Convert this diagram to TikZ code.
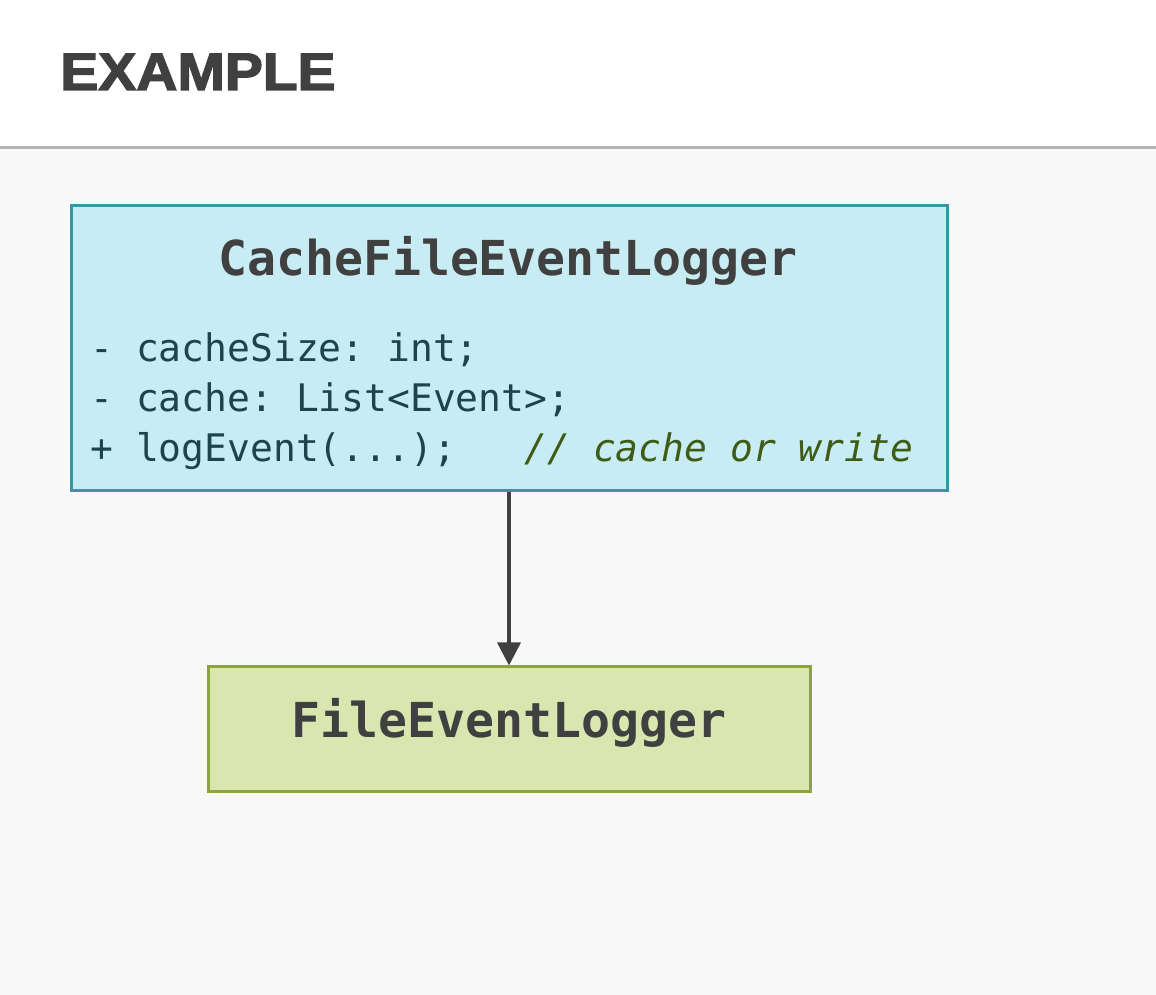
\documentclass[tikz,border=0pt]{standalone}
\usepackage{fontspec}
\setmainfont{Liberation Sans}
\setmonofont{DejaVu Sans Mono}
\newfontfamily\headfont[BoldFeatures={FakeBold=2.5}]{Liberation Sans}
\usetikzlibrary{arrows.meta}

\definecolor{headgrey}{RGB}{64,64,64}
\definecolor{rulegrey}{RGB}{178,178,178}
\definecolor{pagebg}{RGB}{249,249,249}
\definecolor{cachefill}{RGB}{200,236,243}
\definecolor{cacheline}{RGB}{58,150,165}
\definecolor{filefill}{RGB}{217,230,176}
\definecolor{fileline}{RGB}{138,166,58}
\definecolor{membertext}{RGB}{28,68,76}
\definecolor{commenttext}{RGB}{62,92,22}

\tikzset{
    classbox/.style={draw, line width=0.06cm, inner sep=0pt},
    classname/.style={inner sep=0pt, anchor=base, text=headgrey,
        font=\ttfamily\bfseries\fontsize{27.4}{32}\selectfont},
    member/.style={inner sep=0pt, anchor=base west, text=membertext,
        font=\ttfamily\fontsize{21.6}{28}\selectfont},
}

\begin{document}
\begin{tikzpicture}
    \useasboundingbox (0,0) rectangle (23.12,19.9);

    % 页眉
    \fill[white] (0,16.94) rectangle (23.12,19.9);
    \fill[pagebg] (0,0) rectangle (23.12,16.94);
    \draw[line width=0.06cm, rulegrey] (0,16.94) -- (23.12,16.94);
    \node[anchor=base west, inner sep=0pt, text=headgrey,
        font=\headfont\bfseries\fontsize{30}{36}\selectfont] (heading) at (1.20,18.10)
        {\scalebox{1.08}[1]{EXAMPLE}};

    % 缓存类
    \node[classbox, draw=cacheline, fill=cachefill,
        minimum width=17.52cm, minimum height=5.7cm] (cache) at (10.18,12.93) {};
    \node[classname] (cachename) at (10.16,14.38) {CacheFileEventLogger};
    \node[member] (size) at (1.80,12.66) {- cacheSize: int;};
    \node[member] (list) at (1.80,11.66) {- cache: List<Event>;};
    \node[member] (log) at (1.80,10.66)
        {+ logEvent(...);~~~{\color{commenttext}\itshape // cache or write}};

    % 文件类
    \node[classbox, draw=fileline, fill=filefill,
        minimum width=12.04cm, minimum height=2.5cm] (file) at (10.18,5.31) {};
    \node[classname] (filename) at (10.18,5.14) {FileEventLogger};

    % 委托
    \draw[-{Triangle[width=0.46cm, length=0.46cm]}, line width=0.07cm, headgrey]
        (cache.south) -- (file.north);
\end{tikzpicture}
\end{document}
